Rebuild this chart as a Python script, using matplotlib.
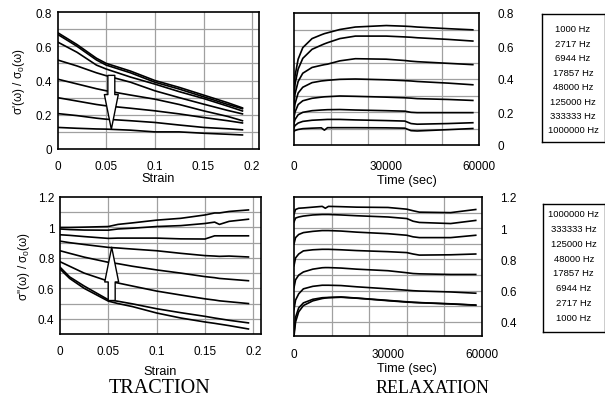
import matplotlib
matplotlib.use("Agg")
import matplotlib.pyplot as plt
from matplotlib.ticker import FixedLocator

plt.rcParams['font.family'] = ['Liberation Sans', 'DejaVu Sans']
plt.rcParams['mathtext.fontset'] = 'custom'
plt.rcParams['mathtext.rm'] = 'Liberation Sans'

# frequencies (Hz), lowest first
freqs = [1000, 2717, 6944, 17857, 48000, 125000, 333333, 1000000]

# traction, storage part sigma'/sigma0 vs strain (top curve = 1000 Hz)
strain_top = [0, 0.02, 0.04, 0.05, 0.075, 0.1, 0.125, 0.15, 0.175, 0.19]
trac_real = [
    [0.68, 0.61, 0.53, 0.50, 0.455, 0.40, 0.36, 0.315, 0.27, 0.24],
    [0.67, 0.60, 0.52, 0.49, 0.445, 0.39, 0.35, 0.305, 0.26, 0.235],
    [0.625, 0.565, 0.49, 0.467, 0.42, 0.379, 0.335, 0.295, 0.25, 0.222],
    [0.52, 0.485, 0.445, 0.428, 0.39, 0.34, 0.30, 0.262, 0.225, 0.205],
    [0.408, 0.38, 0.352, 0.34, 0.315, 0.291, 0.26, 0.223, 0.19, 0.165],
    [0.30, 0.28, 0.26, 0.252, 0.238, 0.223, 0.205, 0.184, 0.165, 0.152],
    [0.207, 0.195, 0.18, 0.174, 0.165, 0.155, 0.14, 0.126, 0.118, 0.112],
    [0.126, 0.121, 0.117, 0.116, 0.11, 0.10, 0.10, 0.092, 0.086, 0.082],
]

# traction, loss part sigma''/sigma0 vs strain (top curve = 1000000 Hz)
strain_bot = [0, 0.01, 0.025, 0.05, 0.06, 0.075, 0.1, 0.125, 0.15, 0.16, 0.165, 0.175, 0.195]
trac_imag = [
    [1.0, 1.0, 1.002, 1.006, 1.02, 1.03, 1.048, 1.06, 1.082, 1.095, 1.095, 1.105, 1.115],
    [0.99, 0.986, 0.983, 0.982, 0.99, 0.995, 1.006, 1.012, 1.026, 1.035, 1.02, 1.04, 1.054],
    [0.952, 0.948, 0.94, 0.928, 0.93, 0.93, 0.93, 0.925, 0.924, 0.945, 0.945, 0.945, 0.945],
    [0.91, 0.9, 0.888, 0.869, 0.865, 0.858, 0.847, 0.83, 0.815, 0.812, 0.81, 0.812, 0.806],
    [0.847, 0.83, 0.805, 0.771, 0.762, 0.745, 0.721, 0.70, 0.677, 0.67, 0.665, 0.66, 0.65],
    [0.775, 0.745, 0.70, 0.647, 0.635, 0.615, 0.582, 0.556, 0.531, 0.523, 0.518, 0.512, 0.50],
    [0.739, 0.675, 0.615, 0.525, 0.515, 0.498, 0.466, 0.44, 0.416, 0.405, 0.40, 0.39, 0.373],
    [0.727, 0.665, 0.60, 0.516, 0.50, 0.48, 0.438, 0.405, 0.379, 0.37, 0.365, 0.355, 0.333],
]

# relaxation, time in seconds
time_s = [0, 500, 1500, 3000, 6000, 9000, 10000, 11000, 15000, 20000,
          30000, 36000, 38000, 40000, 50000, 58000]
relax_real = [
    [0.30, 0.42, 0.52, 0.59, 0.645, 0.668, 0.675, 0.68, 0.70, 0.715, 0.724, 0.72, 0.718, 0.715, 0.705, 0.698],
    [0.25, 0.37, 0.46, 0.525, 0.58, 0.605, 0.613, 0.62, 0.645, 0.66, 0.66, 0.655, 0.653, 0.65, 0.64, 0.63],
    [0.22, 0.31, 0.385, 0.435, 0.47, 0.483, 0.487, 0.49, 0.51, 0.523, 0.52, 0.512, 0.508, 0.505, 0.495, 0.487],
    [0.18, 0.25, 0.315, 0.35, 0.378, 0.388, 0.39, 0.392, 0.398, 0.40, 0.395, 0.39, 0.388, 0.385, 0.375, 0.365],
    [0.15, 0.20, 0.245, 0.268, 0.283, 0.29, 0.292, 0.293, 0.297, 0.295, 0.29, 0.286, 0.284, 0.281, 0.276, 0.27],
    [0.12, 0.155, 0.183, 0.198, 0.208, 0.212, 0.213, 0.214, 0.215, 0.212, 0.208, 0.205, 0.198, 0.196, 0.196, 0.196],
    [0.10, 0.118, 0.133, 0.143, 0.15, 0.153, 0.154, 0.155, 0.155, 0.152, 0.148, 0.145, 0.13, 0.126, 0.13, 0.135],
    [0.08, 0.088, 0.094, 0.099, 0.102, 0.104, 0.09, 0.105, 0.105, 0.105, 0.104, 0.102, 0.087, 0.085, 0.093, 0.10],
]
relax_imag = [
    [1.09, 1.12, 1.128, 1.13, 1.135, 1.14, 1.128, 1.14, 1.138, 1.135, 1.133, 1.122, 1.112, 1.103, 1.10, 1.12],
    [1.04, 1.065, 1.072, 1.078, 1.085, 1.088, 1.088, 1.088, 1.085, 1.08, 1.072, 1.062, 1.045, 1.037, 1.03, 1.05],
    [0.90, 0.94, 0.96, 0.972, 0.98, 0.985, 0.985, 0.985, 0.982, 0.975, 0.965, 0.955, 0.945, 0.94, 0.94, 0.955],
    [0.76, 0.81, 0.835, 0.855, 0.862, 0.865, 0.865, 0.865, 0.862, 0.857, 0.85, 0.844, 0.835, 0.828, 0.83, 0.835],
    [0.62, 0.67, 0.70, 0.72, 0.738, 0.747, 0.748, 0.748, 0.745, 0.738, 0.728, 0.715, 0.71, 0.708, 0.704, 0.704],
    [0.48, 0.54, 0.58, 0.612, 0.628, 0.635, 0.635, 0.635, 0.633, 0.625, 0.612, 0.603, 0.60, 0.598, 0.592, 0.584],
    [0.33, 0.43, 0.49, 0.522, 0.545, 0.555, 0.556, 0.557, 0.56, 0.553, 0.538, 0.529, 0.526, 0.524, 0.516, 0.508],
    [0.31, 0.40, 0.465, 0.505, 0.535, 0.55, 0.553, 0.555, 0.558, 0.552, 0.536, 0.527, 0.525, 0.523, 0.515, 0.507],
]

W, H = 605, 406
fig = plt.figure(figsize=(W / 100, H / 100), dpi=100)


def px_axes(x0, y0, x1, y1):
    # pixel box (top-left origin) -> figure axes
    return fig.add_axes([x0 / W, 1 - y1 / H, (x1 - x0) / W, (y1 - y0) / H])


def style(ax, xmajor, xlabels, ymajor, ylabels, xgrid, ygrid, right=False):
    ax.xaxis.set_major_locator(FixedLocator(xmajor))
    ax.set_xticklabels(xlabels)
    ax.yaxis.set_major_locator(FixedLocator(ymajor))
    ax.set_yticklabels(ylabels)
    ax.xaxis.set_minor_locator(FixedLocator(xgrid))
    ax.yaxis.set_minor_locator(FixedLocator(ygrid))
    ax.xaxis.remove_overlapping_locs = False
    ax.yaxis.remove_overlapping_locs = False
    ax.grid(False)
    ax.grid(True, which='minor', color='#a0a0a0', lw=0.9)
    ax.set_axisbelow(True)
    ax.tick_params(which='both', length=0, labelsize=8.5)
    ax.tick_params(axis='x', pad=8)
    if right:
        ax.yaxis.tick_right()
        ax.tick_params(axis='y', pad=13)
    else:
        ax.tick_params(axis='y', pad=4)
    for s in ax.spines.values():
        s.set_linewidth(1.2)


curve = dict(color='black', lw=1.2)
arrow_style = 'simple,head_length=2.5,head_width=1.0,tail_width=0.5'

# traction, real part
ax1 = px_axes(57.5, 13, 259, 150)
for ys in trac_real:
    ax1.plot(strain_top, ys, **curve)
ax1.set_xlim(0, 0.207)
ax1.set_ylim(0, 0.8)
style(ax1, [0, 0.05, 0.1, 0.15, 0.2], ['0', '0.05', '0.1', '0.15', '0.2'],
      [0, 0.2, 0.4, 0.6, 0.8], ['0', '0.2', '0.4', '0.6', '0.8'],
      [0.05, 0.1, 0.15, 0.2], [0.1, 0.2, 0.3, 0.4, 0.5, 0.6, 0.7])
ax1.set_xlabel('Strain', fontsize=9.2, labelpad=0)
ax1.set_ylabel(r"σ'(ω) / σ$_\mathregular{0}$(ω)", fontsize=8.5, labelpad=6)
ax1.annotate('', xy=(0.0553, 0.115), xytext=(0.0553, 0.43),
             arrowprops=dict(arrowstyle=arrow_style, fc='white', ec='black',
                             lw=1.0, shrinkA=0, shrinkB=0),
             annotation_clip=False)

# relaxation, real part
ax2 = px_axes(293.5, 14, 479, 146)
for ys in relax_real:
    ax2.plot(time_s, ys, **curve)
ax2.set_xlim(0, 60000)
ax2.set_ylim(0, 0.8)
style(ax2, [0, 30000, 60000], ['0', '30000', '60000'],
      [0, 0.2, 0.4, 0.6, 0.8], ['0', '0.2', '0.4', '0.6', '0.8'],
      [12000, 24000, 36000, 48000], [0.1, 0.2, 0.3, 0.4, 0.5, 0.6, 0.7], right=True)
ax2.tick_params(axis='x', pad=11)
ax2.set_xlabel('Time (sec)', fontsize=9.2, labelpad=1)
ax2.xaxis.set_label_coords(0.61, -0.22)

# traction, loss part
ax3 = px_axes(60, 198, 261, 335)
for ys in trac_imag:
    ax3.plot(strain_bot, ys, **curve)
ax3.set_xlim(0, 0.208)
ax3.set_ylim(0.3, 1.2)
style(ax3, [0, 0.05, 0.1, 0.15, 0.2], ['0', '0.05', '0.1', '0.15', '0.2'],
      [0.4, 0.6, 0.8, 1.0, 1.2], ['0.4', '0.6', '0.8', '1', '1.2'],
      [0.05, 0.1, 0.15, 0.2], [0.4, 0.5, 0.6, 0.7, 0.8, 0.9, 1.0, 1.1])
ax3.set_xlabel('Strain', fontsize=9.2, labelpad=6)
ax3.set_ylabel(r"σ''(ω) / σ$_\mathregular{0}$(ω)", fontsize=8.5, labelpad=4)
ax3.annotate('', xy=(0.0535, 0.87), xytext=(0.0535, 0.52),
             arrowprops=dict(arrowstyle=arrow_style, fc='white', ec='black',
                             lw=1.0, shrinkA=0, shrinkB=0),
             annotation_clip=False)

# relaxation, loss part
ax4 = px_axes(294, 198, 482, 337)
for ys in relax_imag:
    ax4.plot(time_s, ys, **curve)
ax4.set_xlim(0, 60000)
ax4.set_ylim(0.31, 1.2)
style(ax4, [0, 30000, 60000], ['0', '30000', '60000'],
      [0.4, 0.6, 0.8, 1.0, 1.2], ['0.4', '0.6', '0.8', '1', '1.2'],
      [12000, 24000, 36000, 48000], [0.4, 0.5, 0.6, 0.7, 0.8, 0.9, 1.0, 1.1], right=True)
ax4.tick_params(axis='x', pad=9)
ax4.set_xlabel('Time (sec)', fontsize=9.2, labelpad=2)
ax4.xaxis.set_label_coords(0.60, -0.19)


# frequency boxes
def freq_box(x0, y0, x1, y1, labels, top, bottom):
    lg = px_axes(x0, y0, x1, y1)
    lg.set_xticks([])
    lg.set_yticks([])
    for s in lg.spines.values():
        s.set_linewidth(1.0)
    n = len(labels)
    for i, lab in enumerate(labels):
        yy = 1 - (top + (bottom - top) * i / (n - 1))
        lg.text(0.5, yy, lab, ha='center', va='center', fontsize=6.8,
                transform=lg.transAxes)


hz = ['%d Hz' % f for f in freqs]
freq_box(541.5, 15, 604.5, 143, hz, 0.117, 0.906)
freq_box(543, 205, 604.5, 333, hz[::-1], 0.078, 0.883)

fig.text(160 / W, 1 - 389 / H, 'TRACTION', family='Liberation Serif',
         fontsize=14.5, ha='center', va='center')
fig.text(432 / W, 1 - 389 / H, 'RELAXATION', family='Liberation Serif',
         fontsize=13, ha='center', va='center')

fig.savefig('out.png', dpi=100)
